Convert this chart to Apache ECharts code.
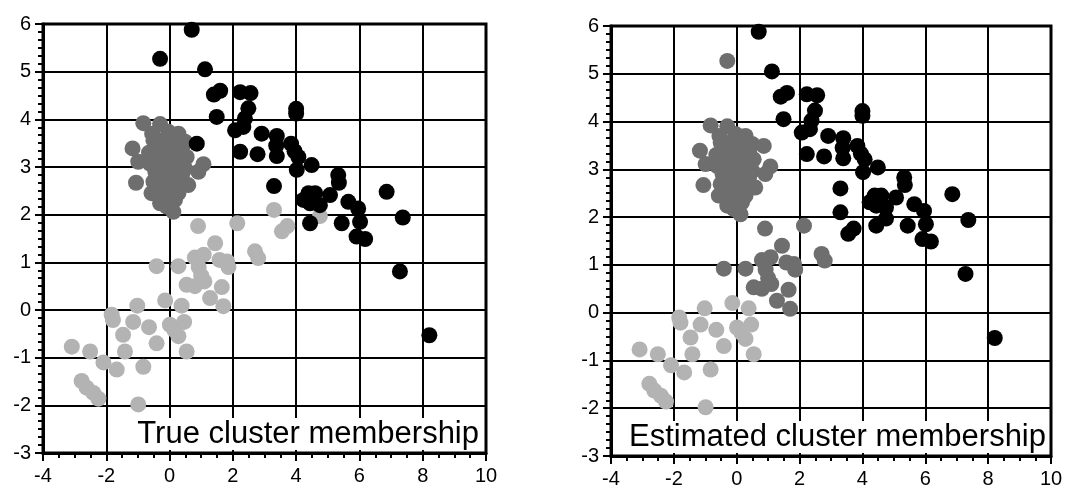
<!DOCTYPE html>
<html>
<head>
<meta charset="utf-8">
<script src="https://cdn.jsdelivr.net/npm/echarts@6.0.0/dist/echarts.min.js"></script>
<style>
html,body{margin:0;padding:0;background:#fff;}
#chart{width:1069px;height:490px;}
</style>
</head>
<body>
<div id="chart"></div>
<script>
// Panel titles
const panelTitles = ['True cluster membership', 'Estimated cluster membership'];
// Axis ranges / tick labels
const xTicks = [-4, -2, 0, 2, 4, 6, 8, 10];
const yTicks = [-3, -2, -1, 0, 1, 2, 3, 4, 5, 6];

// true: black, estimated: black
const blackPts = [
  [0.70,5.88],[1.12,5.05],[1.40,4.52],[1.60,4.60],[1.49,4.05],[2.23,4.57],[2.56,4.55],
  [2.49,4.23],[2.38,4.02],[2.33,3.84],[2.07,3.77],[2.23,3.32],[2.91,3.70],[3.39,3.65],
  [2.78,3.27],[3.39,3.23],[3.37,3.45],[3.84,3.49],[3.95,3.33],[4.07,3.21],[4.02,2.94],
  [4.49,3.04],[3.30,2.60],[4.00,4.22],[4.00,4.12],[5.33,2.83],[5.35,2.67],[5.07,2.41],
  [4.39,2.45],[4.60,2.45],[4.23,2.31],[4.44,2.24],[4.75,2.20],[4.52,2.36],[5.65,2.27],
  [5.96,2.13],[5.44,1.82],[4.44,1.82],[6.02,1.85],[5.91,1.54],[6.18,1.49],[6.86,2.48],
  [7.37,1.94],[7.28,0.81],[8.21,-0.53]
];
// true: black, estimated: dark gray
const blackToDark = [[-0.30,5.27],[0.86,3.49]];
// true: dark gray, estimated: dark gray
const darkPts = [
  [-0.83,3.92],[-0.30,3.90],[-0.04,3.74],[0.28,3.70],[0.49,3.53],[-1.17,3.39],[-0.99,3.11],
  [-0.51,3.56],[-0.20,3.56],[0.12,3.46],[-0.41,3.25],[-0.04,3.28],[0.33,3.28],[0.54,3.21],
  [-0.62,3.07],[-0.25,3.04],[0.17,3.00],[0.49,2.97],[-1.06,2.67],[-0.51,2.69],[-0.20,2.76],
  [0.22,2.73],[0.59,2.62],[-0.57,2.45],[-0.14,2.45],[0.28,2.45],[-0.30,2.24],[0.17,2.31],
  [-0.09,2.17],[0.12,2.06],[1.07,3.06],[0.91,2.90],[-0.35,3.40],[0.00,3.10],[-0.10,2.95],
  [0.05,2.60],[-0.35,2.60],[0.40,2.85],[-0.65,3.30],[0.30,3.10],[-0.45,2.90],[0.40,3.40],
  [-0.20,3.20],[0.10,2.85],[-0.55,3.70]
];
// true: light gray, estimated: light gray
const lightPts = [
  [-3.09,-0.77],[-2.51,-0.87],[-2.09,-1.10],[-1.67,-1.25],[-2.78,-1.49],[-2.62,-1.63],
  [-2.41,-1.74],[-2.25,-1.86],[-0.99,-1.98],[-0.83,-1.19],[-1.41,-0.87],[-1.47,-0.52],
  [-1.83,-0.10],[-1.79,-0.21],[-1.15,-0.25],[-1.02,0.09],[-0.65,-0.36],[-0.41,-0.70],
  [-0.14,0.20],[0.38,0.09],[0.01,-0.31],[0.15,-0.42],[0.28,-0.55],[0.46,-0.25],[0.54,-0.87]
];
// true: light gray, estimated: dark gray
const lightToDark = [
  [-0.41,0.92],[0.28,0.92],[0.80,1.10],[1.08,1.16],[0.92,0.90],[1.00,0.72],[1.44,1.40],
  [1.58,1.05],[1.82,1.02],[1.86,0.90],[0.54,0.53],[0.80,0.50],[1.10,0.60],[1.65,0.48],
  [1.28,0.25],[1.70,0.08],[0.90,1.76],[2.14,1.82],[2.70,1.23],[2.80,1.09]
];
// true: light gray, estimated: black
const lightToBlack = [[3.30,2.10],[3.55,1.65],[3.72,1.76],[4.75,1.97]];

const COLORS = {black:'#000000', dark:'#6e6e6e', light:'#b3b3b3'};
const FONT = '"Liberation Sans", Arial, Helvetica, sans-serif';

function xAxisFor(i){
  return {
    type:'value', gridIndex:i, min:xTicks[0], max:xTicks[xTicks.length-1], interval:2,
    axisLine:{show:true, onZero:false, lineStyle:{color:'#000', width:3}},
    axisTick:{show:true, length:8, lineStyle:{color:'#000', width:2}},
    minorTick:{show:true, splitNumber:4, length:5, lineStyle:{color:'#000', width:2}},
    splitLine:{show:true, lineStyle:{color:'#000', width:2}},
    axisLabel:{color:'#000', fontSize:20, fontFamily:FONT, margin:13}
  };
}
function yAxisFor(i){
  return {
    type:'value', gridIndex:i, min:yTicks[0], max:yTicks[yTicks.length-1], interval:1,
    axisLine:{show:true, onZero:false, lineStyle:{color:'#000', width:3}},
    axisTick:{show:true, length:8, lineStyle:{color:'#000', width:2}},
    minorTick:{show:true, splitNumber:6, length:5, lineStyle:{color:'#000', width:2}},
    splitLine:{show:true, lineStyle:{color:'#000', width:2}},
    axisLabel:{color:'#000', fontSize:20, fontFamily:FONT, margin:12}
  };
}
function sc(i, data, color){
  return {type:'scatter', xAxisIndex:i, yAxisIndex:i, data:data, symbolSize:16,
    itemStyle:{color:color, opacity:1}, silent:true, animation:false};
}

const chart = echarts.init(document.getElementById('chart'), null, {renderer:'canvas'});
chart.setOption({
  animation:false,
  backgroundColor:'#fff',
  grid:[
    {left:43, top:24, width:443, height:429, show:true, borderColor:'#000', borderWidth:3, backgroundColor:'transparent'},
    {left:611, top:26, width:440, height:430, show:true, borderColor:'#000', borderWidth:3, backgroundColor:'transparent'}
  ],
  xAxis:[xAxisFor(0), xAxisFor(1)],
  yAxis:[yAxisFor(0), yAxisFor(1)],
  series:[
    sc(0, lightPts.concat(lightToDark, lightToBlack), COLORS.light),
    sc(0, darkPts, COLORS.dark),
    sc(0, blackPts.concat(blackToDark), COLORS.black),
    sc(1, lightPts, COLORS.light),
    sc(1, darkPts.concat(blackToDark, lightToDark), COLORS.dark),
    sc(1, blackPts.concat(lightToBlack), COLORS.black)
  ],
  graphic:[
    {type:'text', x:482, y:450, z:100,
     style:{text:panelTitles[0], font:'31px ' + FONT, fill:'#000', align:'right', verticalAlign:'bottom',
            backgroundColor:'#fff', padding:[1,3,0,5]}},
    {type:'text', x:1049, y:453, z:100,
     style:{text:panelTitles[1], font:'31px ' + FONT, fill:'#000', align:'right', verticalAlign:'bottom',
            backgroundColor:'#fff', padding:[1,3,0,5]}}
  ]
});
</script>
</body>
</html>
